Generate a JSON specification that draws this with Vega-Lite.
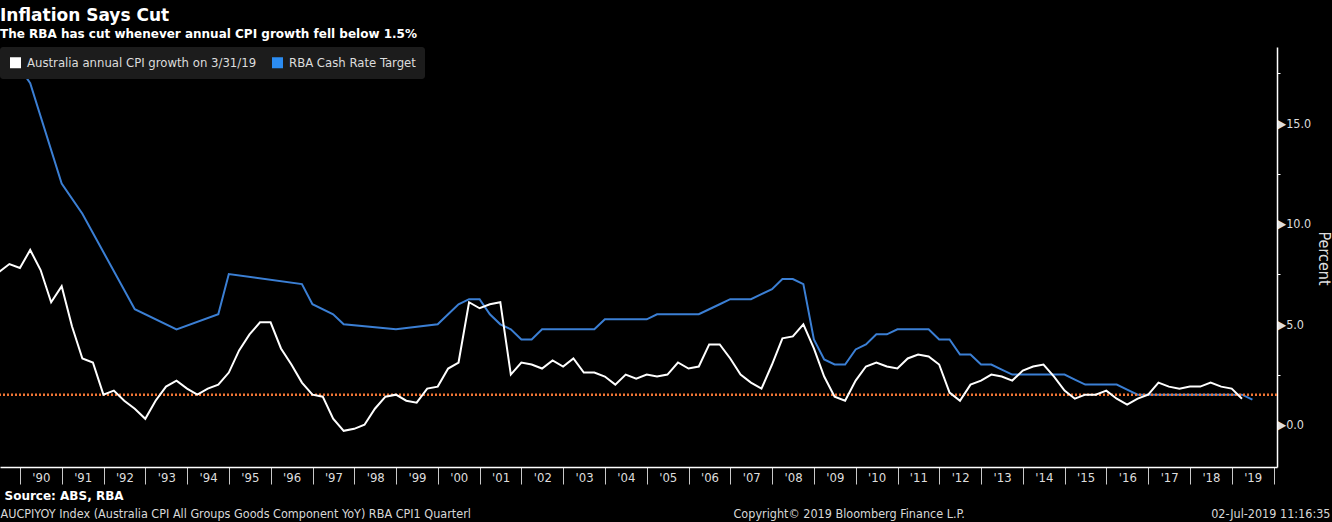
{
  "$schema": "https://vega.github.io/schema/vega-lite/v6.json",
  "width": 1277,
  "height": 420,
  "autosize": {"type": "none"},
  "padding": {"left": 0, "top": 47, "right": 55, "bottom": 55},
  "background": "#000000",
  "title": {
    "text": "Inflation Says Cut",
    "subtitle": "The RBA has cut whenever annual CPI growth fell below 1.5%",
    "anchor": "start",
    "frame": "group",
    "font": "DejaVu Sans",
    "fontSize": 17,
    "fontWeight": "bold",
    "color": "#ffffff",
    "subtitleFont": "DejaVu Sans",
    "subtitleFontSize": 12,
    "subtitleFontWeight": "bold",
    "subtitleColor": "#ffffff",
    "subtitlePadding": 4,
    "offset": 6
  },
  "datasets": {
    "cpi": [
      {"date": "1989-06-30", "cpi": 7.6}, {"date": "1989-09-30", "cpi": 8.0}, {"date": "1989-12-31", "cpi": 7.8},
      {"date": "1990-03-31", "cpi": 8.7}, {"date": "1990-06-30", "cpi": 7.7}, {"date": "1990-09-30", "cpi": 6.1}, {"date": "1990-12-31", "cpi": 6.9},
      {"date": "1991-03-31", "cpi": 4.9}, {"date": "1991-06-30", "cpi": 3.3}, {"date": "1991-09-30", "cpi": 3.1}, {"date": "1991-12-31", "cpi": 1.5},
      {"date": "1992-03-31", "cpi": 1.7}, {"date": "1992-06-30", "cpi": 1.2}, {"date": "1992-09-30", "cpi": 0.8}, {"date": "1992-12-31", "cpi": 0.3},
      {"date": "1993-03-31", "cpi": 1.2}, {"date": "1993-06-30", "cpi": 1.9}, {"date": "1993-09-30", "cpi": 2.2}, {"date": "1993-12-31", "cpi": 1.8},
      {"date": "1994-03-31", "cpi": 1.5}, {"date": "1994-06-30", "cpi": 1.8}, {"date": "1994-09-30", "cpi": 2.0}, {"date": "1994-12-31", "cpi": 2.6},
      {"date": "1995-03-31", "cpi": 3.7}, {"date": "1995-06-30", "cpi": 4.5}, {"date": "1995-09-30", "cpi": 5.1}, {"date": "1995-12-31", "cpi": 5.1},
      {"date": "1996-03-31", "cpi": 3.8}, {"date": "1996-06-30", "cpi": 3.0}, {"date": "1996-09-30", "cpi": 2.1}, {"date": "1996-12-31", "cpi": 1.5},
      {"date": "1997-03-31", "cpi": 1.4}, {"date": "1997-06-30", "cpi": 0.3}, {"date": "1997-09-30", "cpi": -0.3}, {"date": "1997-12-31", "cpi": -0.2},
      {"date": "1998-03-31", "cpi": 0.0}, {"date": "1998-06-30", "cpi": 0.8}, {"date": "1998-09-30", "cpi": 1.4}, {"date": "1998-12-31", "cpi": 1.5},
      {"date": "1999-03-31", "cpi": 1.2}, {"date": "1999-06-30", "cpi": 1.1}, {"date": "1999-09-30", "cpi": 1.8}, {"date": "1999-12-31", "cpi": 1.9},
      {"date": "2000-03-31", "cpi": 2.8}, {"date": "2000-06-30", "cpi": 3.1}, {"date": "2000-09-30", "cpi": 6.1}, {"date": "2000-12-31", "cpi": 5.8},
      {"date": "2001-03-31", "cpi": 6.0}, {"date": "2001-06-30", "cpi": 6.1}, {"date": "2001-09-30", "cpi": 2.5}, {"date": "2001-12-31", "cpi": 3.1},
      {"date": "2002-03-31", "cpi": 3.0}, {"date": "2002-06-30", "cpi": 2.8}, {"date": "2002-09-30", "cpi": 3.2}, {"date": "2002-12-31", "cpi": 2.9},
      {"date": "2003-03-31", "cpi": 3.3}, {"date": "2003-06-30", "cpi": 2.6}, {"date": "2003-09-30", "cpi": 2.6}, {"date": "2003-12-31", "cpi": 2.4},
      {"date": "2004-03-31", "cpi": 2.0}, {"date": "2004-06-30", "cpi": 2.5}, {"date": "2004-09-30", "cpi": 2.3}, {"date": "2004-12-31", "cpi": 2.5},
      {"date": "2005-03-31", "cpi": 2.4}, {"date": "2005-06-30", "cpi": 2.5}, {"date": "2005-09-30", "cpi": 3.1}, {"date": "2005-12-31", "cpi": 2.8},
      {"date": "2006-03-31", "cpi": 2.9}, {"date": "2006-06-30", "cpi": 4.0}, {"date": "2006-09-30", "cpi": 4.0}, {"date": "2006-12-31", "cpi": 3.3},
      {"date": "2007-03-31", "cpi": 2.5}, {"date": "2007-06-30", "cpi": 2.1}, {"date": "2007-09-30", "cpi": 1.8}, {"date": "2007-12-31", "cpi": 3.0},
      {"date": "2008-03-31", "cpi": 4.3}, {"date": "2008-06-30", "cpi": 4.4}, {"date": "2008-09-30", "cpi": 5.0}, {"date": "2008-12-31", "cpi": 3.8},
      {"date": "2009-03-31", "cpi": 2.4}, {"date": "2009-06-30", "cpi": 1.4}, {"date": "2009-09-30", "cpi": 1.2}, {"date": "2009-12-31", "cpi": 2.2},
      {"date": "2010-03-31", "cpi": 2.9}, {"date": "2010-06-30", "cpi": 3.1}, {"date": "2010-09-30", "cpi": 2.9}, {"date": "2010-12-31", "cpi": 2.8},
      {"date": "2011-03-31", "cpi": 3.3}, {"date": "2011-06-30", "cpi": 3.5}, {"date": "2011-09-30", "cpi": 3.4}, {"date": "2011-12-31", "cpi": 3.0},
      {"date": "2012-03-31", "cpi": 1.6}, {"date": "2012-06-30", "cpi": 1.2}, {"date": "2012-09-30", "cpi": 2.0}, {"date": "2012-12-31", "cpi": 2.2},
      {"date": "2013-03-31", "cpi": 2.5}, {"date": "2013-06-30", "cpi": 2.4}, {"date": "2013-09-30", "cpi": 2.2}, {"date": "2013-12-31", "cpi": 2.7},
      {"date": "2014-03-31", "cpi": 2.9}, {"date": "2014-06-30", "cpi": 3.0}, {"date": "2014-09-30", "cpi": 2.4}, {"date": "2014-12-31", "cpi": 1.7},
      {"date": "2015-03-31", "cpi": 1.3}, {"date": "2015-06-30", "cpi": 1.5}, {"date": "2015-09-30", "cpi": 1.5}, {"date": "2015-12-31", "cpi": 1.7},
      {"date": "2016-03-31", "cpi": 1.3}, {"date": "2016-06-30", "cpi": 1.0}, {"date": "2016-09-30", "cpi": 1.3}, {"date": "2016-12-31", "cpi": 1.5},
      {"date": "2017-03-31", "cpi": 2.1}, {"date": "2017-06-30", "cpi": 1.9}, {"date": "2017-09-30", "cpi": 1.8}, {"date": "2017-12-31", "cpi": 1.9},
      {"date": "2018-03-31", "cpi": 1.9}, {"date": "2018-06-30", "cpi": 2.1}, {"date": "2018-09-30", "cpi": 1.9}, {"date": "2018-12-31", "cpi": 1.8},
      {"date": "2019-03-31", "cpi": 1.3}
    ],
    "rba": [
      {"date": "1989-06-30", "rate": 18.0}, {"date": "1989-12-31", "rate": 17.75}, {"date": "1990-03-31", "rate": 17.0},
      {"date": "1990-12-31", "rate": 12.0}, {"date": "1991-06-30", "rate": 10.5}, {"date": "1992-09-30", "rate": 5.75},
      {"date": "1993-09-30", "rate": 4.75}, {"date": "1994-09-30", "rate": 5.5}, {"date": "1994-12-31", "rate": 7.5},
      {"date": "1996-09-30", "rate": 7.0}, {"date": "1996-12-31", "rate": 6.0}, {"date": "1997-06-30", "rate": 5.5},
      {"date": "1997-09-30", "rate": 5.0}, {"date": "1998-12-31", "rate": 4.75}, {"date": "1999-12-31", "rate": 5.0},
      {"date": "2000-03-31", "rate": 5.5}, {"date": "2000-06-30", "rate": 6.0}, {"date": "2000-09-30", "rate": 6.25},
      {"date": "2000-12-31", "rate": 6.25}, {"date": "2001-03-31", "rate": 5.5}, {"date": "2001-06-30", "rate": 5.0},
      {"date": "2001-09-30", "rate": 4.75}, {"date": "2001-12-31", "rate": 4.25}, {"date": "2002-03-31", "rate": 4.25},
      {"date": "2002-06-30", "rate": 4.75}, {"date": "2003-09-30", "rate": 4.75}, {"date": "2003-12-31", "rate": 5.25},
      {"date": "2004-12-31", "rate": 5.25}, {"date": "2005-03-31", "rate": 5.5}, {"date": "2006-03-31", "rate": 5.5},
      {"date": "2006-06-30", "rate": 5.75}, {"date": "2006-09-30", "rate": 6.0}, {"date": "2006-12-31", "rate": 6.25},
      {"date": "2007-06-30", "rate": 6.25}, {"date": "2007-09-30", "rate": 6.5}, {"date": "2007-12-31", "rate": 6.75},
      {"date": "2008-03-31", "rate": 7.25}, {"date": "2008-06-30", "rate": 7.25}, {"date": "2008-09-30", "rate": 7.0},
      {"date": "2008-12-31", "rate": 4.25}, {"date": "2009-03-31", "rate": 3.25}, {"date": "2009-06-30", "rate": 3.0},
      {"date": "2009-09-30", "rate": 3.0}, {"date": "2009-12-31", "rate": 3.75}, {"date": "2010-03-31", "rate": 4.0},
      {"date": "2010-06-30", "rate": 4.5}, {"date": "2010-09-30", "rate": 4.5}, {"date": "2010-12-31", "rate": 4.75},
      {"date": "2011-09-30", "rate": 4.75}, {"date": "2011-12-31", "rate": 4.25}, {"date": "2012-03-31", "rate": 4.25},
      {"date": "2012-06-30", "rate": 3.5}, {"date": "2012-09-30", "rate": 3.5}, {"date": "2012-12-31", "rate": 3.0},
      {"date": "2013-03-31", "rate": 3.0}, {"date": "2013-06-30", "rate": 2.75}, {"date": "2013-09-30", "rate": 2.5},
      {"date": "2014-12-31", "rate": 2.5}, {"date": "2015-03-31", "rate": 2.25}, {"date": "2015-06-30", "rate": 2.0},
      {"date": "2016-03-31", "rate": 2.0}, {"date": "2016-06-30", "rate": 1.75}, {"date": "2016-09-30", "rate": 1.5},
      {"date": "2019-03-31", "rate": 1.5}, {"date": "2019-06-30", "rate": 1.25}
    ],
    "threshold": [{"level": 1.5}]
  },
  "layer": [
    {
      "data": {"name": "rba"},
      "mark": {"type": "line", "strokeWidth": 2, "clip": true},
      "encoding": {
        "x": {
          "field": "date", "type": "temporal",
          "scale": {"type": "utc", "domain": [{"year": 1989, "month": 7, "date": 10, "utc": true}, {"year": 2020, "month": 1, "date": 31, "utc": true}]},
          "axis": {
            "orient": "bottom", "domain": false, "ticks": false, "labels": false, "grid": false,
            "title": "AUCPIYOY Index (Australia CPI All Groups Goods Component YoY) RBA CPI1  Quarterl",
            "titleX": 0, "titleY": 50.5, "titleAlign": "left", "titleAnchor": null, "titleBaseline": "alphabetic",
            "titleFont": "DejaVu Sans Condensed, DejaVu Sans, sans-serif", "titleFontSize": 12.5, "titleFontWeight": "normal", "titleColor": "#d8d8d8"
          }
        },
        "y": {
          "field": "rate", "type": "quantitative",
          "scale": {"domain": [-2.1, 18.8], "nice": false, "zero": false},
          "axis": {
            "orient": "left", "domain": false, "ticks": false, "labels": false, "grid": false,
            "title": "02-Jul-2019 11:16:35",
            "titleAngle": 0, "titleX": 1330, "titleY": 470.5, "titleAlign": "right", "titleAnchor": null, "titleBaseline": "alphabetic",
            "titleFont": "DejaVu Sans Condensed, DejaVu Sans, sans-serif", "titleFontSize": 12.5, "titleFontWeight": "normal", "titleColor": "#d8d8d8"
          }
        },
        "color": {
          "datum": "RBA Cash Rate Target", "type": "nominal",
          "scale": {"domain": ["Australia annual CPI growth on 3/31/19", "RBA Cash Rate Target"], "range": ["#ffffff", "#3b7fd4"]},
          "legend": {
            "orient": "top-left", "offset": 0, "direction": "horizontal", "title": null,
            "fillColor": "#1c1c1c", "cornerRadius": 3, "padding": 9,
            "symbolType": "square", "symbolSize": 121, "symbolStrokeWidth": 0,
            "labelColor": "#dddddd", "labelFont": "DejaVu Sans Condensed, DejaVu Sans, sans-serif", "labelFontSize": 13,
            "labelOffset": 5, "columnPadding": 14, "labelLimit": 400,
            "encode": {"symbols": {"update": {"fill": {"signal": "datum.value === 'RBA Cash Rate Target' ? '#2b8cf2' : '#ffffff'"}, "stroke": {"value": "transparent"}}}}
          }
        }
      }
    },
    {
      "data": {"name": "threshold"},
      "mark": {"type": "rule", "color": "#f07434", "strokeDash": [2, 2], "strokeWidth": 2.5},
      "encoding": {
        "y": {
          "field": "level", "type": "quantitative",
          "scale": {"domain": [-2.1, 18.8], "nice": false, "zero": false},
          "axis": {
            "orient": "left", "domain": false, "ticks": false, "labels": false, "grid": false,
            "title": "Copyright© 2019 Bloomberg Finance L.P.",
            "titleAngle": 0, "titleX": 733, "titleY": 470.5, "titleAlign": "left", "titleAnchor": null, "titleBaseline": "alphabetic",
            "titleFont": "DejaVu Sans Condensed, DejaVu Sans, sans-serif", "titleFontSize": 12.5, "titleFontWeight": "normal", "titleColor": "#d8d8d8"
          }
        }
      }
    },
    {
      "data": {"name": "cpi"},
      "mark": {"type": "line", "strokeWidth": 2, "clip": true},
      "encoding": {
        "x": {
          "field": "date", "type": "temporal",
          "scale": {"type": "utc", "domain": [{"year": 1989, "month": 7, "date": 10, "utc": true}, {"year": 2020, "month": 1, "date": 31, "utc": true}]},
          "axis": {
            "orient": "bottom",
            "values": [
              {"year": 1990, "utc": true}, {"year": 1991, "utc": true}, {"year": 1992, "utc": true}, {"year": 1993, "utc": true},
              {"year": 1994, "utc": true}, {"year": 1995, "utc": true}, {"year": 1996, "utc": true}, {"year": 1997, "utc": true},
              {"year": 1998, "utc": true}, {"year": 1999, "utc": true}, {"year": 2000, "utc": true}, {"year": 2001, "utc": true},
              {"year": 2002, "utc": true}, {"year": 2003, "utc": true}, {"year": 2004, "utc": true}, {"year": 2005, "utc": true},
              {"year": 2006, "utc": true}, {"year": 2007, "utc": true}, {"year": 2008, "utc": true}, {"year": 2009, "utc": true},
              {"year": 2010, "utc": true}, {"year": 2011, "utc": true}, {"year": 2012, "utc": true}, {"year": 2013, "utc": true},
              {"year": 2014, "utc": true}, {"year": 2015, "utc": true}, {"year": 2016, "utc": true}, {"year": 2017, "utc": true},
              {"year": 2018, "utc": true}, {"year": 2019, "utc": true}, {"year": 2020, "utc": true}
            ],
            "format": "'%y",
            "labelExpr": "utcyear(datum.value) >= 2020 ? '' : datum.label",
            "labelOffset": 20.9, "labelAlign": "center", "labelBaseline": "middle", "labelPadding": -7,
            "labelFlush": false, "labelOverlap": false, "labelBound": false,
            "labelColor": "#dddddd", "labelFont": "DejaVu Sans Condensed, DejaVu Sans, sans-serif", "labelFontSize": 13,
            "tickSize": 17, "tickColor": "#c8c8c8", "tickWidth": 1,
            "domainColor": "#ffffff", "domainWidth": 1.5, "grid": false,
            "title": "Source: ABS, RBA",
            "titleX": 4, "titleY": 32.5, "titleAlign": "left", "titleAnchor": null, "titleBaseline": "alphabetic",
            "titleFont": "DejaVu Sans", "titleFontSize": 12, "titleFontWeight": "bold", "titleColor": "#ffffff"
          }
        },
        "y": {
          "field": "cpi", "type": "quantitative",
          "scale": {"domain": [-2.1, 18.8], "nice": false, "zero": false},
          "axis": {
            "orient": "right",
            "values": [0, 2.5, 5, 7.5, 10, 12.5, 15, 17.5],
            "labelExpr": "datum.value % 5 === 0 ? '▶' + format(datum.value, '.1f') : ''",
            "labelOverlap": false, "labelBound": false,
            "labelPadding": -3, "labelBaseline": "middle",
            "labelColor": "#dddddd", "labelFont": "DejaVu Sans Condensed, DejaVu Sans, sans-serif", "labelFontSize": 12.5,
            "tickSize": 3, "tickColor": "#ffffff", "domainColor": "#ffffff", "domainWidth": 1.5, "grid": false,
            "title": "Percent",
            "titleAngle": 90, "titleX": 46, "titleY": 211, "titleAlign": "center", "titleBaseline": "middle", "titleAnchor": null,
            "titleFont": "DejaVu Sans Condensed, DejaVu Sans, sans-serif", "titleFontSize": 16, "titleFontWeight": "normal", "titleColor": "#dddddd"
          }
        },
        "color": {"datum": "Australia annual CPI growth on 3/31/19", "type": "nominal"}
      }
    }
  ],
  "resolve": {"axis": {"x": "independent", "y": "independent"}},
  "config": {
    "view": {"stroke": null},
    "font": "DejaVu Sans Condensed, DejaVu Sans, sans-serif"
  }
}
